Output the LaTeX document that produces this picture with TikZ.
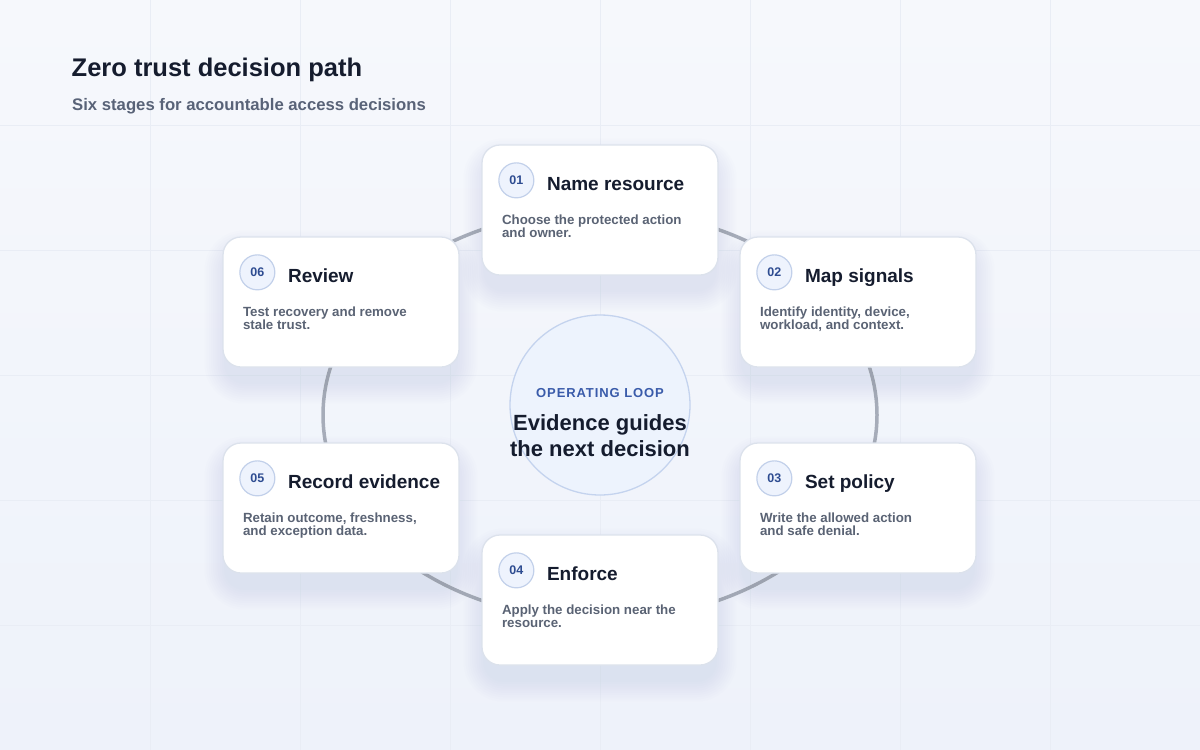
\documentclass[tikz,border=0pt]{standalone}
\usepackage{fontspec}
\setmainfont{Liberation Sans}
\newfontfamily\spacedfont[LetterSpace=7]{Liberation Sans}
\usetikzlibrary{calc,backgrounds}
\pgfdeclarelayer{shadowlayer}
\pgfsetlayers{background,shadowlayer,main}
\definecolor{bgtop}{HTML}{F6F8FC}
\definecolor{bgbot}{HTML}{EEF2FA}
\definecolor{gridc}{HTML}{E9EDF5}
\definecolor{ringc}{HTML}{A6ACB9}
\definecolor{cardborder}{HTML}{DCE2EC}
\definecolor{badgefill}{HTML}{EEF3FD}
\definecolor{badgeborder}{HTML}{C2D0EA}
\definecolor{badgetext}{HTML}{2E4C91}
\definecolor{titlec}{HTML}{151C2E}
\definecolor{descc}{HTML}{5A6374}
\definecolor{subc}{HTML}{596378}
\definecolor{centerfill}{HTML}{EDF3FD}
\definecolor{centerborder}{HTML}{C4D3EE}
\definecolor{loopblue}{HTML}{3A5BAA}
\definecolor{shadowc}{HTML}{8490AE}
\newcommand\cardtext[5]{%
  \node[badge] (#1b) at ($(#1.north west)+(35,36)$) {#2};
  \node[ctitle] (#1t) at ($(#1.north west)+(65.5,46.5)$) {#3};
  \node[cdesc] (#1d1) at ($(#1.north west)+(20.5,80)$) {#4};
  \node[cdesc] (#1d2) at ($(#1.north west)+(20.5,93.5)$) {#5};
}
\begin{document}
\begin{tikzpicture}[x=1pt,y=-1pt,
  card/.style={draw=cardborder, line width=1.3pt, fill=white, rounded corners=18pt,
    minimum width=236pt, minimum height=130pt, inner sep=0pt},
  badge/.style={circle, draw=badgeborder, line width=1.2pt, fill=badgefill,
    minimum size=35pt, inner sep=0pt, text=badgetext,
    font=\fontsize{12.5}{14}\selectfont\bfseries},
  ctitle/.style={inner sep=0pt, anchor=base west, text=titlec,
    font=\fontsize{19}{22}\selectfont\bfseries},
  cdesc/.style={inner sep=0pt, anchor=base west, text=descc,
    font=\fontsize{13.3}{14}\selectfont\bfseries},
  hubtext/.style={inner sep=0pt, anchor=base, text=titlec,
    font=\fontsize{22}{26}\selectfont\bfseries},
  gridline/.style={draw=gridc, line width=0.8pt},
  ring/.style={draw=ringc, line width=3.5pt}
]
\useasboundingbox (0,0) rectangle (1200,750);
\begin{pgfonlayer}{background}
  \shade[top color=bgtop, bottom color=bgbot] (0,0) rectangle (1200,750);
  \foreach \gx in {150,300,...,1050} \draw[gridline] (\gx,0) -- (\gx,750);
  \foreach \gy in {125,250,...,625} \draw[gridline] (0,\gy) -- (1200,\gy);
  \draw[ring] (600,415) ellipse [x radius=277pt, y radius=205pt];
\end{pgfonlayer}

% title
\node[inner sep=0pt, anchor=base west, text=titlec, font=\fontsize{25.5}{30}\selectfont\bfseries]
  (title) at (71.5,76.5) {Zero trust decision path};
\node[inner sep=0pt, anchor=base west, text=subc, font=\fontsize{16.7}{20}\selectfont\bfseries]
  (subtitle) at (72,110) {Six stages for accountable access decisions};

% cards
\foreach \n/\cx/\cy in {1/600/210, 2/858/302, 3/858/508, 4/600/600, 5/341/508, 6/341/302}
  \node[card] (c\n) at (\cx,\cy) {};

\begin{pgfonlayer}{shadowlayer}
  \foreach \n in {1,...,6}{
    \foreach \i in {1,...,10}{
      \pgfmathsetmacro\e{\i*2.2}
      \pgfmathsetmacro\rr{18+\e}
      \fill[shadowc, opacity=0.012, rounded corners=\rr pt]
        ($(c\n.north west)+(-\e+4,-\e+16)$) rectangle ($(c\n.south east)+(\e-4,\e+14)$);
    }
  }
\end{pgfonlayer}

\cardtext{c1}{01}{Name resource}{Choose the protected action}{and owner.}
\cardtext{c2}{02}{Map signals}{Identify identity, device,}{workload, and context.}
\cardtext{c3}{03}{Set policy}{Write the allowed action}{and safe denial.}
\cardtext{c4}{04}{Enforce}{Apply the decision near the}{resource.}
\cardtext{c5}{05}{Record evidence}{Retain outcome, freshness,}{and exception data.}
\cardtext{c6}{06}{Review}{Test recovery and remove}{stale trust.}

% hub
\node[circle, fill=centerfill, draw=centerborder, line width=1.3pt, minimum size=180pt, inner sep=0pt]
  (hub) at (600,405) {};
\node[inner sep=0pt, anchor=base, text=loopblue, font=\spacedfont\fontsize{13}{15}\selectfont\bfseries]
  (hubkicker) at (600,397.3) {OPERATING LOOP};
\node[hubtext] (hubl1) at (600,430.5) {Evidence guides};
\node[hubtext] (hubl2) at (600,456.5) {the next decision};
\end{tikzpicture}
\end{document}
